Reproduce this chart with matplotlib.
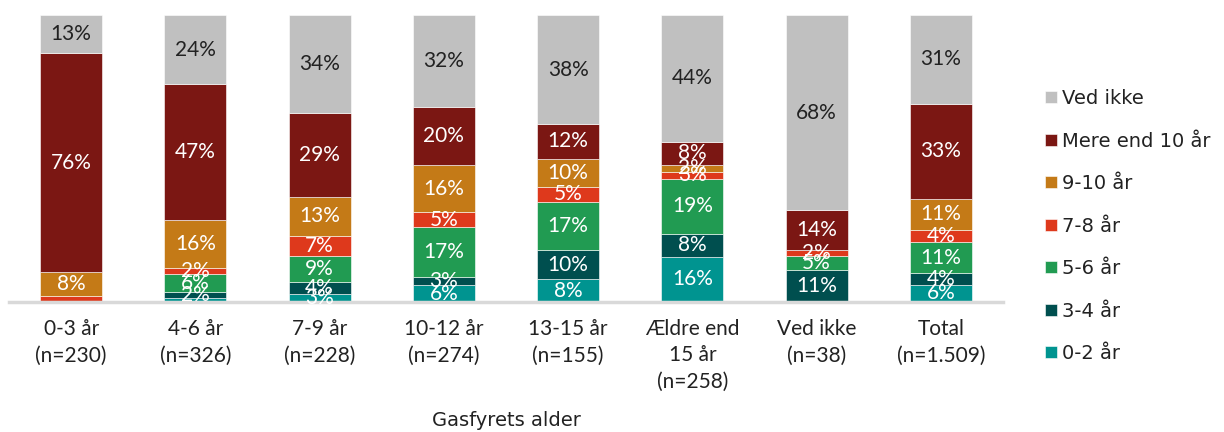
import matplotlib
matplotlib.use("Agg")
import matplotlib.pyplot as plt
import numpy as np

plt.rcParams['font.family'] = ['Lato', 'DejaVu Sans']

categories = ["0-3 år\n(n=230)", "4-6 år\n(n=326)", "7-9 år\n(n=228)", "10-12 år\n(n=274)",
              "13-15 år\n(n=155)", "Ældre end\n15 år\n(n=258)", "Ved ikke\n(n=38)", "Total\n(n=1.509)"]

# stacked bottom -> top
series_names = ["0-2 år", "3-4 år", "5-6 år", "7-8 år", "9-10 år", "Mere end 10 år", "Ved ikke"]
v_0_2    = [0.0, 1.5, 2.9, 5.8, 8.0, 15.8, 0.0, 6.0]
v_3_4    = [0.0, 2.0, 4.0, 3.0, 10.0, 8.0, 11.0, 4.0]
v_5_6    = [0.4, 6.2, 9.0, 17.2, 17.0, 19.0, 5.0, 11.0]
v_7_8    = [1.8, 2.3, 7.2, 5.2, 5.0, 2.6, 2.0, 4.0]
v_9_10   = [8.4, 16.4, 13.4, 16.4, 10.0, 2.3, 0.0, 11.0]
v_mere10 = [76.0, 47.4, 29.3, 20.2, 12.0, 8.1, 14.0, 33.0]
v_vedikke = [13.4, 24.2, 34.2, 32.2, 38.0, 44.2, 68.0, 31.0]

series_values = [v_0_2, v_3_4, v_5_6, v_7_8, v_9_10, v_mere10, v_vedikke]
colors = ["#009490", "#004F4F", "#219B52", "#DE391C", "#C47A17", "#7B1713", "#C0C0C0"]
text_colors = ["white"] * 6 + ["#222222"]

fig = plt.figure(figsize=(12.24, 4.32), dpi=100)
ax = fig.add_axes([9/1224, 1 - 302/432, (1003 - 9)/1224, 287/432])

x = np.arange(len(categories))
bottom = np.zeros(len(categories))
handles = []
for name, vals, col, tc in zip(series_names, series_values, colors, text_colors):
    vals = np.array(vals)
    b = ax.bar(x, vals, 0.5, bottom=bottom, color=col, edgecolor="white", linewidth=0.4, label=name)
    handles.append(b)
    for xi, v, bt in zip(x, vals, bottom):
        if v >= 2:
            ax.text(xi, bt + v / 2, f"{v:.0f}%", ha="center", va="center", color=tc, fontsize=15)
    bottom += vals

ax.set_xlim(-0.5, len(categories) - 0.5)
ax.set_ylim(0, 100)
ax.set_yticks([])
for s in ["left", "right", "top"]:
    ax.spines[s].set_visible(False)
ax.spines["bottom"].set_color("#D9D9D9")
ax.spines["bottom"].set_linewidth(2.5)
ax.set_xticks(x)
ax.set_xticklabels(categories, fontsize=15, color="#222222", linespacing=1.42)
ax.tick_params(axis="x", length=0, pad=12)
ax.set_xlabel("Gasfyrets alder", fontsize=14, color="#222222", family=['DejaVu Sans'])
ax.xaxis.set_label_coords(0.5, (302 - 420) / 287)
ax.xaxis.label.set_va("center")

leg = fig.legend(handles[::-1], series_names[::-1], loc="upper left",
                 bbox_to_anchor=(1045/1224, 1 - 89/432), frameon=False,
                 prop={'family': 'DejaVu Sans', 'size': 14},
                 borderaxespad=0, borderpad=0,
                 handlelength=0.6, handleheight=0.6, handletextpad=0.3, labelspacing=1.21)
for t in leg.get_texts():
    t.set_color("#222222")

fig.savefig("out.png", dpi=100)
